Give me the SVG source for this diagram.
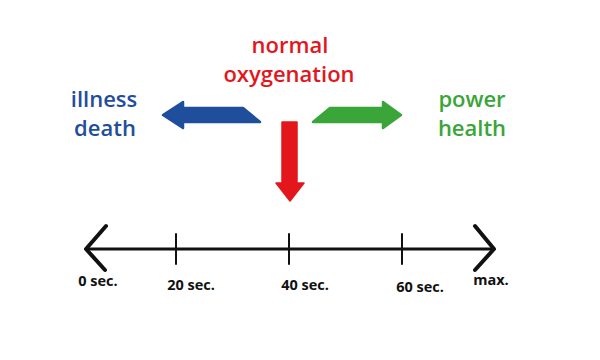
<svg xmlns="http://www.w3.org/2000/svg" width="600" height="360" viewBox="0 0 600 360">
<style>
.t{font-family:"Open Sans","Liberation Sans",sans-serif;font-weight:600;font-size:22px;text-anchor:middle}
.s{font-family:"Open Sans","Liberation Sans",sans-serif;font-weight:bold;font-size:14.5px;text-anchor:middle;fill:#111}
.ax{stroke:#111;fill:none;stroke-linecap:round;stroke-linejoin:round}
</style>
<rect width="600" height="360" fill="#fff"/>
<g id="normal-oxygenation"><text class="t" x="290" y="53" fill="#e3161c">normal</text><text class="t" x="289" y="82" fill="#e3161c">oxygenation</text></g>
<g id="illness-death"><text class="t" x="104" y="107" fill="#1f4e9c">illness</text><text class="t" x="105" y="136" fill="#1f4e9c">death</text></g>
<g id="power-health"><text class="t" x="472" y="107" fill="#3aa538">power</text><text class="t" x="472" y="136" fill="#3aa538">health</text></g>
<g id="connectors">
<path d="M260,122 L243,108 L183,108 L183,102 L163,115 L183,128 L183,122 Z" fill="#1f4e9c" stroke="#1f4e9c" stroke-width="2.5" stroke-linejoin="round"/>
<path d="M313,122 L330,108 L383,108 L383,102 L401,115 L383,128 L383,122 Z" fill="#3aa538" stroke="#3aa538" stroke-width="2.5" stroke-linejoin="round"/>
<path d="M282,122 L297,122 L297,183 L304,183 L290,201 L276,183 L282,183 Z" fill="#e3161c" stroke="#e3161c" stroke-width="1.5" stroke-linejoin="round"/>
</g>
<g id="timeline">
<line class="ax" x1="86" y1="249" x2="494" y2="249" stroke-width="3"/>
<polyline class="ax" points="106,226 86,249 105,270" stroke-width="4"/>
<polyline class="ax" points="475,226 494,249 475,270" stroke-width="4"/>
<line class="ax" x1="176" y1="234" x2="176" y2="264" stroke-width="2"/>
<line class="ax" x1="289" y1="234" x2="289" y2="264" stroke-width="2"/>
<line class="ax" x1="402" y1="234" x2="402" y2="264" stroke-width="2"/>
<text class="s" x="98" y="286">0 sec.</text>
<text class="s" x="191" y="290">20 sec.</text>
<text class="s" x="305" y="290">40 sec.</text>
<text class="s" x="420" y="292">60 sec.</text>
<text class="s" x="491" y="285">max.</text>
</g>
</svg>
